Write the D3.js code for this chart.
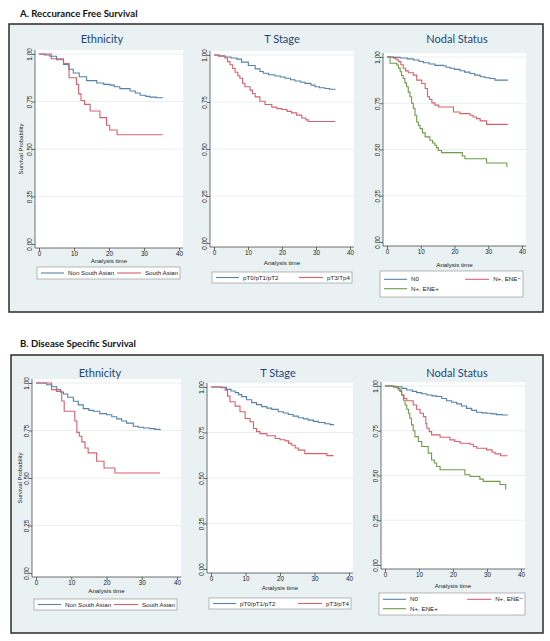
<!DOCTYPE html>
<html>
<head>
<meta charset="utf-8">
<title>Survival curves</title>
<script src="https://cdn.jsdelivr.net/npm/d3@7"></script>
<style>
    body { margin:0; background:#fff; }
    svg { display:block; }
    .axis text { font-family:'Liberation Sans', Arial, sans-serif; font-size:6.3px; fill:#222; }
    .axis line { stroke:#333; stroke-width:0.7; }
</style>
</head>
<body>
<svg id="chart" width="550" height="641"></svg>
<script>
// ---- data: [analysis time, survival probability] ----
// A. recurrence free survival
const rfsEthNonSA = [[0,1],[1.5,0.995],[3.1,0.988],[5,0.97],[7,0.945],[8.5,0.92],[9.8,0.9],[11.5,0.88],[13.6,0.86],[16.5,0.847],[18.5,0.84],[20.3,0.836],[21.5,0.828],[23.1,0.818],[26,0.805],[27.5,0.795],[28.9,0.783],[30.5,0.777],[31.7,0.773],[33.5,0.77],[35.3,0.768]];
const rfsEthSA = [[0,1],[3.5,0.975],[7,0.95],[8.6,0.875],[10.7,0.84],[11.3,0.79],[12,0.755],[13,0.735],[14.6,0.70],[17.4,0.665],[19.3,0.625],[20.2,0.60],[22.3,0.575],[35.3,0.575]];
const rfsTLow = [[0,1],[1.5,0.996],[3.2,0.989],[5,0.984],[6.7,0.978],[8.1,0.962],[10.1,0.944],[12.1,0.926],[13.5,0.912],[14.5,0.903],[16,0.895],[17.9,0.888],[19.5,0.883],[20.9,0.876],[22.5,0.868],[23.8,0.862],[25.5,0.855],[26.8,0.849],[28.5,0.84],[29.7,0.831],[31,0.826],[32.6,0.822],[34,0.818],[35.6,0.815]];
const rfsTHigh = [[0,1],[1.3,0.993],[3.2,0.984],[4,0.965],[4.7,0.948],[5.5,0.928],[6.2,0.908],[7,0.89],[7.6,0.876],[8.4,0.85],[9.1,0.831],[10.6,0.813],[11.3,0.795],[12.1,0.777],[13.5,0.754],[15,0.737],[17,0.723],[18.5,0.715],[19.9,0.71],[21.5,0.70],[22.8,0.692],[24.3,0.68],[25.8,0.665],[27,0.655],[27.7,0.646],[35.6,0.646]];
const rfsN0 = [[0,1],[2,0.998],[3.9,0.995],[6,0.99],[7.8,0.984],[9.5,0.976],[10.8,0.969],[12.5,0.962],[14.2,0.955],[16.7,0.953],[17.5,0.945],[18.7,0.939],[20,0.933],[21.6,0.926],[23,0.918],[24.6,0.911],[26,0.902],[27.6,0.893],[29,0.888],[30.5,0.884],[32,0.875],[35.8,0.875]];
const rfsENEneg = [[0,1],[1.9,0.993],[2.7,0.985],[3.4,0.975],[4.1,0.958],[4.8,0.939],[5.5,0.925],[6.3,0.915],[7.8,0.902],[8.8,0.875],[10.3,0.857],[11.3,0.83],[12,0.785],[12.6,0.77],[13.3,0.752],[14.2,0.74],[15.3,0.73],[19.2,0.73],[19.7,0.703],[21.6,0.694],[24.6,0.685],[25.5,0.676],[26.5,0.667],[27.6,0.655],[29.5,0.636],[35.8,0.636]];
const rfsENEpos = [[0,1],[0.9,0.966],[2.9,0.957],[3.4,0.94],[3.9,0.92],[4.3,0.9],[4.8,0.884],[5.3,0.86],[5.8,0.839],[6.3,0.81],[6.8,0.785],[7.3,0.75],[7.8,0.722],[8.3,0.685],[8.8,0.649],[9.3,0.63],[9.8,0.613],[10.5,0.59],[11.3,0.568],[12.7,0.55],[13.5,0.535],[14.2,0.523],[14.7,0.51],[15.2,0.495],[16.2,0.483],[21.6,0.483],[22.3,0.465],[23.1,0.45],[29,0.45],[29.5,0.427],[35.3,0.427],[35.5,0.405]];

// B. disease specific survival
const dssEthNonSA = [[0,1],[3,0.991],[4.5,0.98],[5.9,0.965],[7,0.952],[7.8,0.942],[9,0.925],[10.6,0.904],[12,0.885],[13.4,0.865],[15,0.856],[16.3,0.851],[18.1,0.839],[20,0.833],[21.5,0.822],[22.9,0.811],[24.3,0.8],[25.7,0.789],[27.6,0.772],[29,0.767],[30.5,0.763],[32.3,0.76],[33.8,0.756],[35.2,0.751]];
const dssEthSA = [[0,1],[4.4,0.965],[5.8,0.956],[7.3,0.905],[8,0.851],[11,0.80],[11.6,0.74],[12.3,0.72],[13,0.69],[13.9,0.658],[14.8,0.632],[17.2,0.588],[19.3,0.553],[22.4,0.526],[35.2,0.526]];
const dssTLow = [[0,1],[3.1,0.998],[4.5,0.987],[5.8,0.978],[7,0.969],[8,0.958],[8.9,0.947],[10.3,0.93],[11.8,0.914],[13.2,0.903],[14.7,0.892],[16.2,0.884],[17.6,0.877],[19.5,0.864],[21,0.857],[22.4,0.849],[23.8,0.84],[25.3,0.831],[26.8,0.825],[28.2,0.818],[29.7,0.811],[31.1,0.805],[33,0.798],[34.5,0.793],[35.5,0.79]];
const dssTHigh = [[0,1],[3.1,0.996],[4.1,0.983],[4.8,0.95],[5.5,0.919],[7,0.895],[8.4,0.864],[9.9,0.827],[11.3,0.809],[12.3,0.772],[13.2,0.755],[14.2,0.744],[16.2,0.732],[18.6,0.717],[20,0.71],[21.5,0.704],[22.5,0.69],[23.4,0.68],[24.4,0.665],[25.3,0.653],[27.2,0.634],[32.6,0.634],[33.6,0.623],[35.5,0.623]];
const dssN0 = [[0,1],[2,0.999],[3.4,0.996],[5,0.987],[6.4,0.978],[8,0.97],[9.3,0.963],[10.8,0.957],[12.3,0.95],[13.8,0.945],[15.2,0.941],[16.7,0.93],[18.1,0.918],[19.6,0.909],[21.1,0.9],[22.5,0.888],[24,0.875],[25.5,0.864],[26.9,0.853],[28.4,0.85],[29.9,0.848],[31.3,0.844],[32.8,0.84],[34.5,0.838],[36,0.836]];
const dssENEneg = [[0,1],[2.5,0.995],[3.2,0.99],[3.9,0.978],[4.9,0.95],[5.6,0.93],[6.4,0.918],[8.3,0.894],[9.3,0.87],[10.3,0.848],[11.3,0.829],[12,0.79],[12.3,0.764],[13,0.745],[13.7,0.727],[16.2,0.714],[19.1,0.699],[20.5,0.69],[22.1,0.68],[25,0.675],[26,0.662],[27,0.652],[29.9,0.643],[31.5,0.63],[32.4,0.621],[34,0.61],[36,0.61]];
const dssENEpos = [[0,1],[2.5,0.995],[3.9,0.987],[4.4,0.97],[4.9,0.95],[5.4,0.92],[5.9,0.894],[6.4,0.87],[6.9,0.848],[7.3,0.82],[7.8,0.783],[8.3,0.75],[8.8,0.717],[9.8,0.69],[10.8,0.662],[12.7,0.625],[13.7,0.587],[14.5,0.57],[15.2,0.55],[16.2,0.532],[22.1,0.532],[23.5,0.504],[25,0.494],[27.9,0.48],[28.9,0.467],[32.8,0.467],[33.8,0.45],[35.3,0.45],[35.5,0.42]];

// labels
const ethLabels = ["Non South Asian", "South Asian"];
const tStageLabelsA = ["pT0/pT1/pT2", "pT3/Tp4"];
const tStageLabelsB = ["pT0/pT1/pT2", "pT3/pT4"];
const nodalLabels = ["N0", "N+, ENE\u2212", "N+, ENE+"];
const xTicks = [0, 10, 20, 30, 40];
const yTicks = [0, 0.25, 0.5, 0.75, 1];

// colours (stata-ish, a bit washed out like the picture)
const cBlue = "#5282aa", cRed = "#d9606b", cGreen = "#6f9a48";

// layout of the two boxes and six graphs
const rows = [
    {label:"A. Reccurance Free Survival", labelY:16.5, box:[9,24,543,312], plots:[
        {title:"Ethnicity", tx:102, ty:39, x0:39, x40:179, y1:54, y0:244, xlabY:260, ylabX:21,
         leg:[37,267,180,279], series:[rfsEthNonSA, rfsEthSA], names:ethLabels, colors:[cBlue,cRed]},
        {title:"T Stage", tx:282, ty:39, x0:214, x40:350, y1:55, y0:243, xlabY:262,
         leg:[212,272,352,283], series:[rfsTLow, rfsTHigh], names:tStageLabelsA, colors:[cBlue,cRed]},
        {title:"Nodal Status", tx:457, ty:39, x0:387, x40:522, y1:57, y0:242, xlabY:264,
         leg:[380,271,523,297], series:[rfsN0, rfsENEneg, rfsENEpos], names:nodalLabels, colors:[cBlue,cRed,cGreen]}
    ]},
    {label:"B. Disease Specific Survival", labelY:347, box:[11,355,543,633], plots:[
        {title:"Ethnicity", tx:100, ty:373, x0:36, x40:177, y1:383, y0:573, xlabY:590, ylabX:20,
         leg:[34,599,177,610], series:[dssEthNonSA, dssEthSA], names:ethLabels, colors:[cBlue,cRed]},
        {title:"T Stage", tx:278, ty:373, x0:211, x40:349, y1:387, y0:569, xlabY:587,
         leg:[209,598,351,609], series:[dssTLow, dssTHigh], names:tStageLabelsB, colors:[cBlue,cRed]},
        {title:"Nodal Status", tx:457, ty:373, x0:385, x40:521, y1:386, y0:565, xlabY:585,
         leg:[379,593,525,615], series:[dssN0, dssENEneg, dssENEpos], names:nodalLabels, colors:[cBlue,cRed,cGreen]}
    ]}
];

const svg = d3.select("#chart");
const pad = 4; // stata plot region margin

function drawPlot(g, p) {
    let x = d3.scaleLinear().domain([0, 40]).range([p.x0, p.x40]);
    let y = d3.scaleLinear().domain([0, 1]).range([p.y0, p.y1]);
    let left = p.x0 - pad, right = p.x40 + pad, top = p.y1 - pad, bottom = p.y0 + pad;

    g.append("rect")
        .attr("x", left).attr("y", top)
        .attr("width", right - left).attr("height", bottom - top)
        .attr("fill", "#fff");

    // light grid lines
    g.selectAll(".grid").data(yTicks.filter(d => d > 0)).join("line")
        .attr("x1", left).attr("x2", right)
        .attr("y1", d => y(d)).attr("y2", d => y(d))
        .attr("stroke", "#e3ecef").attr("stroke-width", 0.8);

    // y axis, labels turned like stata does
    let ya = g.append("g").attr("class", "axis")
        .attr("transform", `translate(${left},0)`)
        .call(d3.axisLeft(y).tickValues(yTicks).tickSize(3).tickFormat(d3.format(".2f")));
    ya.select(".domain").remove();
    ya.selectAll(".tick text")
        .attr("x", 0).attr("y", -3.4).attr("dy", null)
        .attr("text-anchor", "middle")
        .attr("transform", "rotate(-90)");

    let xa = g.append("g").attr("class", "axis")
        .attr("transform", `translate(0,${bottom})`)
        .call(d3.axisBottom(x).tickValues(xTicks).tickSize(3).tickPadding(1));
    xa.select(".domain").remove();

    g.append("line").attr("x1", left).attr("x2", left).attr("y1", top).attr("y2", bottom)
        .attr("stroke", "#333").attr("stroke-width", 0.7);
    g.append("line").attr("x1", left).attr("x2", right).attr("y1", bottom).attr("y2", bottom)
        .attr("stroke", "#333").attr("stroke-width", 0.7);

    // curves
    let line = d3.line().x(d => x(d[0])).y(d => y(d[1])).curve(d3.curveStepAfter);
    p.series.forEach((s, i) => {
        g.append("path").attr("d", line(s))
            .attr("fill", "none").attr("stroke", p.colors[i]).attr("stroke-width", 1.1);
    });

    // titles
    g.append("text").attr("x", p.tx).attr("y", p.ty + 3.8)
        .attr("text-anchor", "middle")
        .style("font-family", "Lato, 'Noto Sans', sans-serif").style("font-size", "11px")
        .attr("fill", "#1c4677").text(p.title);
    g.append("text").attr("x", (p.x0 + p.x40) / 2).attr("y", p.xlabY + 3)
        .attr("text-anchor", "middle")
        .style("font-family", "'Liberation Sans', Arial, sans-serif").style("font-size", "6.2px")
        .attr("fill", "#222").text("Analysis time");
    if (p.ylabX) {
        g.append("text")
            .attr("transform", `translate(${p.ylabX + 2},${(p.y0 + p.y1) / 2}) rotate(-90)`)
            .attr("text-anchor", "middle")
            .style("font-family", "'Liberation Sans', Arial, sans-serif").style("font-size", "6px")
            .attr("fill", "#222").text("Survival Probability");
    }

    // legend
    let [lx, ly, lr, lb] = p.leg;
    g.append("rect").attr("x", lx).attr("y", ly).attr("width", lr - lx).attr("height", lb - ly)
        .attr("fill", "#fff").attr("stroke", "#8a8a8a").attr("stroke-width", 0.6);
    let nRows = Math.ceil(p.names.length / 2);
    let mid = (ly + lb) / 2;
    p.names.forEach((name, i) => {
        let col = i % 2, row = Math.floor(i / 2);
        let cy = nRows === 1 ? mid : mid + (row - 0.5) * 9.4;
        let t = g.append("text").attr("y", cy + 2.1)
            .style("font-family", "'Liberation Sans', Arial, sans-serif").style("font-size", "6.2px")
            .attr("fill", "#222").text(name);
        let keyStart;
        if (col === 0) {
            keyStart = lx + 4;
            t.attr("x", lx + 31);
        } else {
            t.attr("x", lr - 2).attr("text-anchor", "end");
            let w = t.node().getComputedTextLength();
            keyStart = lr - 2 - w - 4 - 24;
        }
        g.append("line").attr("x1", keyStart).attr("x2", keyStart + (col === 0 ? 23 : 24))
            .attr("y1", cy).attr("y2", cy)
            .attr("stroke", p.colors[i]).attr("stroke-width", 1.1);
    });
}

rows.forEach(r => {
    svg.append("text").attr("x", 20).attr("y", r.labelY)
        .style("font-family", "Lato, 'Noto Sans', sans-serif").style("font-size", "9.6px")
        .style("font-weight", "bold").attr("fill", "#111").text(r.label);
    let [bx, by, br, bb] = r.box;
    svg.append("rect").attr("x", bx).attr("y", by).attr("width", br - bx).attr("height", bb - by)
        .attr("fill", "#e9f1f3").attr("stroke", "#2b2b2b").attr("stroke-width", 1.5);
    let g = svg.append("g");
    r.plots.forEach(p => drawPlot(g.append("g"), p));
});
</script>
</body>
</html>
